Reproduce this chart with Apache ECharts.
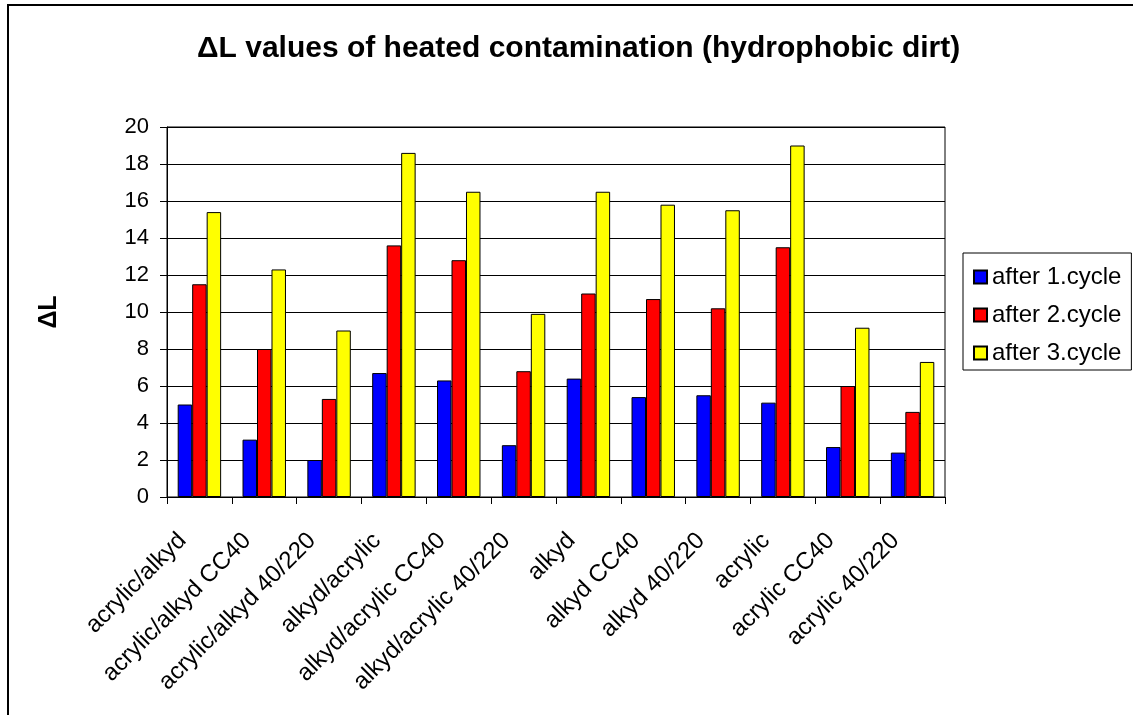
<!DOCTYPE html>
<html>
<head>
<meta charset="utf-8">
<script src="https://cdn.jsdelivr.net/npm/echarts@6/dist/echarts.min.js"></script>
<style>
  html, body { margin: 0; padding: 0; background: #fff; }
  #chart { width: 1133px; height: 715px; }
</style>
</head>
<body>
<div id="chart"></div>
<script>
// coatings tested
const categories = [
  "acrylic/alkyd", "acrylic/alkyd CC40", "acrylic/alkyd 40/220",
  "alkyd/acrylic", "alkyd/acrylic CC40", "alkyd/acrylic 40/220",
  "alkyd", "alkyd CC40", "alkyd 40/220",
  "acrylic", "acrylic CC40", "acrylic 40/220"
];

// ΔL per cycle
const cycle1 = [5.0, 3.1, 2.0, 6.7, 6.3, 2.8, 6.4, 5.4, 5.5, 5.1, 2.7, 2.4];
const cycle2 = [11.5, 8.0, 5.3, 13.6, 12.8, 6.8, 11.0, 10.7, 10.2, 13.5, 6.0, 4.6];
const cycle3 = [15.4, 12.3, 9.0, 18.6, 16.5, 9.9, 16.5, 15.8, 15.5, 19.0, 9.15, 7.3];

const seriesNames = ["after 1.cycle", "after 2.cycle", "after 3.cycle"];
const seriesColors = ["#0000ff", "#ff0000", "#ffff00"];

const font = "Liberation Sans, Arial, sans-serif";

const chart = echarts.init(document.getElementById("chart"));

const mkSeries = (name, data, color) => ({
  name: name,
  type: "bar",
  data: data,
  barGap: "0%",
  barCategoryGap: "33%",
  itemStyle: { color: color, borderColor: "#000", borderWidth: 1 },
  emphasis: { disabled: true }
});

const option = {
  animation: false,
  backgroundColor: "#fff",
  textStyle: { fontFamily: font, color: "#000" },
  graphic: [{
    type: "rect",
    shape: { x: 8, y: 5, width: 1200, height: 800 },
    style: { fill: null, stroke: "#000", lineWidth: 2 },
    silent: true
  }],
  title: {
    text: "ΔL values of heated contamination (hydrophobic dirt)",
    left: 197,
    top: 34,
    padding: 0,
    textStyle: { fontFamily: font, fontSize: 30, fontWeight: "bold", color: "#000" }
  },
  legend: {
    orient: "vertical",
    left: 963,
    top: 253,
    padding: [12, 10, 5, 10],
    itemGap: 14,
    itemWidth: 13,
    itemHeight: 13,
    icon: "rect",
    borderColor: "#000",
    borderWidth: 1,
    data: seriesNames,
    textStyle: { fontFamily: font, fontSize: 24, color: "#000" }
  },
  grid: {
    left: 167,
    top: 127,
    width: 778,
    height: 370,
    show: true,
    borderColor: "#000",
    borderWidth: 1,
    containLabel: false
  },
  xAxis: {
    type: "category",
    data: categories,
    axisLine: { lineStyle: { color: "#000", width: 1 } },
    axisTick: { show: true, length: 7, lineStyle: { color: "#000" } },
    axisLabel: {
      interval: 0,
      rotate: 45,
      margin: 23,
      padding: [0, 24, 0, 0],
      fontFamily: font,
      fontSize: 24,
      color: "#000"
    }
  },
  yAxis: {
    type: "value",
    min: 0,
    max: 20,
    interval: 2,
    name: "ΔL",
    nameLocation: "middle",
    nameRotate: 90,
    nameGap: 105,
    nameTextStyle: { fontFamily: font, fontSize: 25, fontWeight: "bold", color: "#000" },
    axisLine: { show: true, lineStyle: { color: "#000", width: 1 } },
    axisTick: { show: true, length: 7, lineStyle: { color: "#000" } },
    axisLabel: { margin: 18, fontFamily: font, fontSize: 22, color: "#000" },
    splitLine: { show: true, lineStyle: { color: "#000", width: 1 } }
  },
  series: [
    mkSeries(seriesNames[0], cycle1, seriesColors[0]),
    mkSeries(seriesNames[1], cycle2, seriesColors[1]),
    mkSeries(seriesNames[2], cycle3, seriesColors[2])
  ]
};

chart.setOption(option);
</script>
</body>
</html>
